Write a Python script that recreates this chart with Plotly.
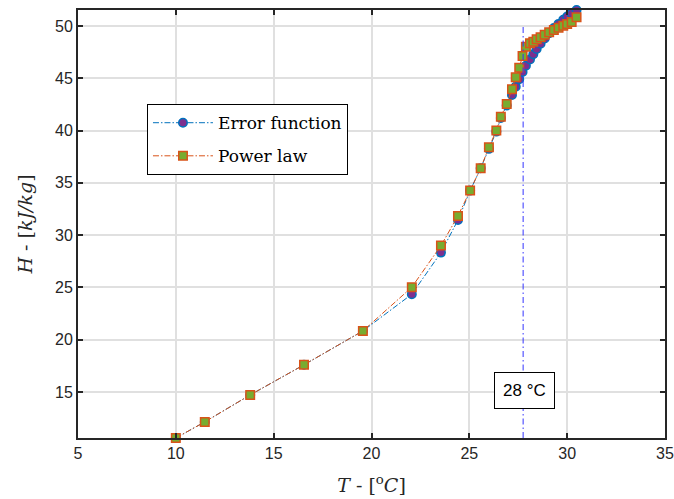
import plotly.graph_objects as go

# ---- data ----
T = [10.0, 11.48, 13.8, 16.55, 19.56, 22.06, 23.55, 24.42, 25.04, 25.58, 26.0, 26.38,
     26.61, 26.91, 27.18, 27.37, 27.55, 27.72, 27.89, 28.10, 28.27, 28.44, 28.64, 28.85,
     29.08, 29.32, 29.56, 29.80, 30.00, 30.23, 30.48]
H_err = [10.6, 12.14, 14.72, 17.6, 20.84, 24.35, 28.33, 31.45, 34.26, 36.4, 38.25, 39.9,
         41.2, 42.4, 43.4, 44.2, 44.9, 45.6, 46.2, 46.8, 47.3, 47.8, 48.3, 48.8,
         49.3, 49.8, 50.2, 50.6, 50.9, 51.2, 51.53]
H_pow = [10.6, 12.14, 14.72, 17.6, 20.84, 25.02, 29.0, 31.84, 34.26, 36.4, 38.4, 40.0,
         41.33, 42.54, 43.95, 45.1, 46.01, 47.13, 48.02, 48.35, 48.5, 48.73, 48.92, 49.17,
         49.4, 49.62, 49.84, 50.03, 50.19, 50.38, 50.83]
VLINE_T = [27.75, 27.75]
VLINE_H = [10.6, 50.0]
LABEL_T, LABEL_H, LABEL_TEXT = 27.83, 15.15, "28 °C"
X_TICKS = [5, 10, 15, 20, 25, 30, 35]
Y_TICKS = [15, 20, 25, 30, 35, 40, 45, 50]
X_RANGE = [5, 35]
Y_RANGE = [10.6, 51.53]

AX = "#262626"
SANS = "Liberation Sans, Arial, sans-serif"
SERIF = "DejaVu Serif, serif"

fig = go.Figure()
fig.add_trace(go.Scatter(
    x=T, y=H_err, name="Error function", legendgroup="a", mode="lines+markers",
    cliponaxis=False,
    line=dict(color="#0072BD", width=1, dash="6px,2px,1.5px,2px"),
    marker=dict(symbol="circle", size=8.5, color="#7E2F8E",
                line=dict(color="#0072BD", width=1.5))))
fig.add_trace(go.Scatter(
    x=T, y=H_pow, name="Power law", legendgroup="b", mode="lines+markers",
    cliponaxis=False,
    line=dict(color="#D95319", width=1, dash="6px,2px,1.5px,2px"),
    marker=dict(symbol="square", size=8.5, color="#77AC30",
                line=dict(color="#D95319", width=1.5))))
fig.add_trace(go.Scatter(
    x=VLINE_T, y=VLINE_H, mode="lines", showlegend=False, hoverinfo="skip",
    line=dict(color="#3333ff", width=1, dash="6px,3px,1.5px,3px")))

fig.add_annotation(x=LABEL_T, y=LABEL_H, text=LABEL_TEXT, showarrow=False,
                   font=dict(family=SANS, size=17, color="black"),
                   bgcolor="white", bordercolor="black", borderwidth=1, borderpad=8)

axis_common = dict(showline=True, linecolor=AX, linewidth=2, mirror="ticks",
                   ticks="inside", ticklen=5, tickwidth=1.5, tickcolor=AX,
                   showgrid=True, gridcolor="#e0e0e0", gridwidth=2, zeroline=False,
                   automargin=False,
                   tickfont=dict(family=SANS, size=16, color=AX))

fig.update_xaxes(range=X_RANGE, tickvals=X_TICKS, **axis_common,
                 title=dict(text="<i>T</i> - [<sup>o</sup><i>C</i>]",
                            font=dict(family=SERIF, size=19, color=AX), standoff=17))
fig.update_yaxes(range=Y_RANGE, tickvals=Y_TICKS, **axis_common,
                 title=dict(text="<i>H</i> - [<i>kJ/kg</i>]",
                            font=dict(family=SERIF, size=19, color=AX), standoff=17))

fig.update_layout(
    width=674, height=499, plot_bgcolor="white", paper_bgcolor="white",
    margin=dict(l=78, r=9, t=10, b=61),
    legend=dict(x=0.1175, y=0.78, xanchor="left", yanchor="top",
                bgcolor="white", bordercolor="black", borderwidth=1,
                font=dict(family=SERIF, size=17, color="black"),
                itemwidth=60, tracegroupgap=8),
    showlegend=True,
)

fig.write_html("out.html")
